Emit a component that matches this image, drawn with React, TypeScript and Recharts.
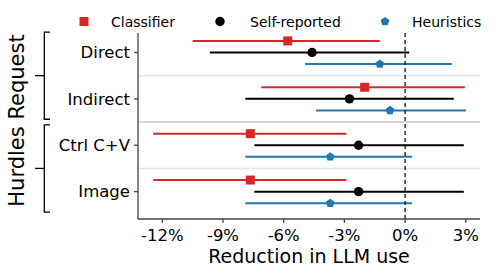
import {
    ScatterChart,
    Scatter,
    XAxis,
    YAxis,
    ErrorBar,
    ReferenceLine,
    Customized,
} from "recharts";

const categories = ["Direct", "Indirect", "Ctrl C+V", "Image"];
const xTicks = [-12, -9, -6, -3, 0, 3];

const classifierMean = [-5.8, -2.0, -7.65, -7.65];
const classifierLow = [-10.5, -7.1, -12.45, -12.45];
const classifierHigh = [-1.25, 2.95, -2.9, -2.9];

const selfMean = [-4.6, -2.75, -2.3, -2.3];
const selfLow = [-9.65, -7.9, -7.45, -7.45];
const selfHigh = [0.2, 2.4, 2.9, 2.9];

const heurMean = [-1.25, -0.75, -3.7, -3.7];
const heurLow = [-4.95, -4.4, -7.9, -7.9];
const heurHigh = [2.3, 3.0, 0.35, 0.35];

const groups = [
    { name: "Request", from: 0, to: 1 },
    { name: "Hurdles", from: 2, to: 3 },
];

const FONT = "DejaVu Sans";
const RED = "#d62728";
const BLUE = "#1f77b4";
const W = 499;
const H = 277;
const M = { top: 33, right: 19, bottom: 0, left: 0 };
const Y_AXIS_W = 138;
const X_AXIS_H = 58;
const Y_DOMAIN: [number, number] = [-0.42, 3.59];
const ROW_OFFSET = 0.25;

const rows = (mean: number[], low: number[], high: number[], offset: number) =>
    mean.map((m, i) => ({
        x: m,
        y: i + offset,
        err: [m - low[i], high[i] - m],
    }));

const classifierData = rows(classifierMean, classifierLow, classifierHigh, -ROW_OFFSET);
const selfData = rows(selfMean, selfLow, selfHigh, 0);
const heurData = rows(heurMean, heurLow, heurHigh, ROW_OFFSET);

// pixel helper for the bracket annotations
const plotTop = M.top;
const plotBottom = H - M.bottom - X_AXIS_H;
const yPix = (v: number) =>
    plotTop + ((v - Y_DOMAIN[0]) / (Y_DOMAIN[1] - Y_DOMAIN[0])) * (plotBottom - plotTop);

const Square = ({ cx, cy }: any) => (
    <rect x={cx - 4.5} y={cy - 4.5} width={9} height={9} fill={RED} />
);
const Dot = ({ cx, cy }: any) => <circle cx={cx} cy={cy} r={4.7} fill="#000" />;
const Pentagon = ({ cx, cy }: any) => {
    const r = 4.6;
    const pts = [0, 1, 2, 3, 4]
        .map((k) => {
            const a = -Math.PI / 2 + (k * 2 * Math.PI) / 5;
            return `${cx + r * Math.cos(a)},${cy + r * Math.sin(a)}`;
        })
        .join(" ");
    return <polygon points={pts} fill={BLUE} />;
};

const legendItems = [
    { label: "Classifier", Shape: Square, x: 84, tx: 111 },
    { label: "Self-reported", Shape: Dot, x: 220, tx: 250 },
    { label: "Heuristics", Shape: Pentagon, x: 385, tx: 412 },
];

const Annotations = () => (
    <g>
        {legendItems.map(({ label, Shape, x, tx }) => (
            <g key={label}>
                <Shape cx={x} cy={21.5} />
                <text x={tx} y={26.5} fontSize={14} fontFamily={FONT} fill="#000">
                    {label}
                </text>
            </g>
        ))}
        {groups.map((g) => {
            const y1 = yPix(g.from - 0.44);
            const y2 = yPix(g.to + 0.44);
            const mid = (y1 + y2) / 2;
            return (
                <g key={g.name} stroke="#000" strokeWidth={1.3} fill="none">
                    <path d={`M50,${y1} H44.3 V${y2} H50`} />
                    <line x1={35} x2={44.3} y1={mid} y2={mid} />
                </g>
            );
        })}
        <text
            x={23.5}
            y={120.5}
            transform="rotate(-90, 23.5, 120.5)"
            textAnchor="middle"
            fontSize={21}
            fontFamily={FONT}
            fill="#000"
        >
            {groups.map((g) => g.name).reverse().join(" ")}
        </text>
    </g>
);

export default function App() {
    return (
        <div style={{ position: "absolute", left: 0, top: 0, width: W, height: H, background: "#fff" }}>
            <ScatterChart width={W} height={H} margin={M}>
                <XAxis
                    type="number"
                    dataKey="x"
                    domain={[-13.2, 3.7]}
                    ticks={xTicks}
                    allowDataOverflow
                    height={X_AXIS_H}
                    tickFormatter={(v) => `${v}%`}
                    stroke="#444"
                    strokeWidth={1.3}
                    tickSize={4}
                    tickMargin={6}
                    tick={{ fill: "#000", fontSize: 16.5, fontFamily: FONT }}
                    label={{
                        value: "Reduction in LLM use",
                        position: "insideBottom",
                        offset: 14,
                        fill: "#000",
                        fontSize: 19,
                        fontFamily: FONT,
                    }}
                />
                <YAxis
                    type="number"
                    dataKey="y"
                    domain={Y_DOMAIN}
                    ticks={[0, 1, 2, 3]}
                    allowDataOverflow
                    reversed
                    width={Y_AXIS_W}
                    tickFormatter={(v) => categories[v] ?? ""}
                    stroke="#444"
                    strokeWidth={1.3}
                    tickSize={4}
                    tickMargin={4}
                    tick={{ fill: "#000", fontSize: 16.5, fontFamily: FONT }}
                />
                <ReferenceLine y={0.5} stroke="#e3e3e3" strokeWidth={1.5} />
                <ReferenceLine y={1.5} stroke="#cccccc" strokeWidth={1.5} />
                <ReferenceLine y={2.5} stroke="#e3e3e3" strokeWidth={1.5} />
                <Scatter data={classifierData} shape={Square} isAnimationActive={false}>
                    <ErrorBar dataKey="err" direction="x" width={0} stroke={RED} strokeWidth={2} isAnimationActive={false} />
                </Scatter>
                <Scatter data={selfData} shape={Dot} isAnimationActive={false}>
                    <ErrorBar dataKey="err" direction="x" width={0} stroke="#000" strokeWidth={2} isAnimationActive={false} />
                </Scatter>
                <Scatter data={heurData} shape={Pentagon} isAnimationActive={false}>
                    <ErrorBar dataKey="err" direction="x" width={0} stroke={BLUE} strokeWidth={2} isAnimationActive={false} />
                </Scatter>
                <ReferenceLine x={0} stroke="#000" strokeWidth={1.2} strokeDasharray="4 3" />
                <Customized component={Annotations} />
            </ScatterChart>
        </div>
    );
}
